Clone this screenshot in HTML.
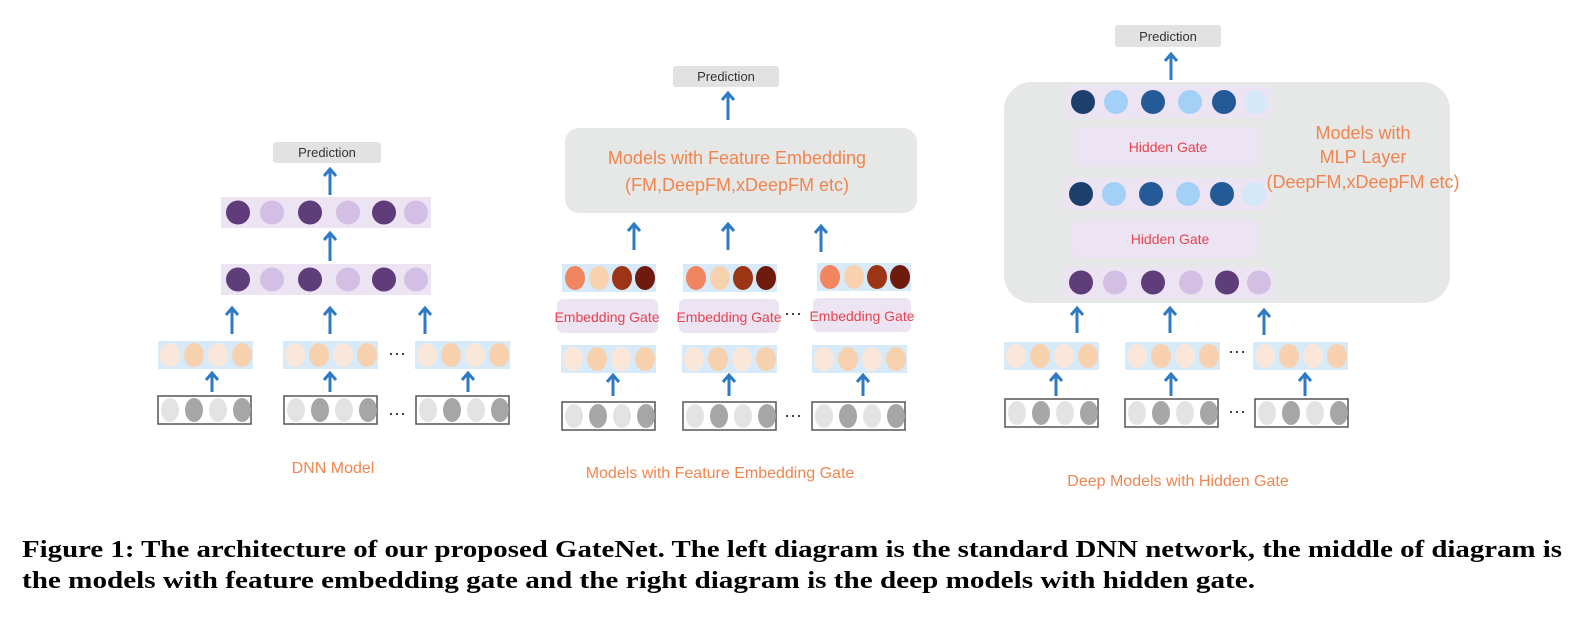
<!DOCTYPE html>
<html><head><meta charset="utf-8"><style>
html,body{margin:0;padding:0;background:#fff;}
svg{display:block;}
.o{font-family:"Liberation Sans",sans-serif;fill:#f0854f;}
.r{font-family:"Liberation Sans",sans-serif;fill:#e8434f;font-size:14px;}
.p{font-family:"Liberation Sans",sans-serif;fill:#333;font-size:13px;}
.cap{font-family:"Liberation Serif",serif;font-weight:bold;font-size:24px;fill:#000;}
.dots{font-family:"Liberation Sans",sans-serif;font-size:18px;fill:#222;}
</style></head><body>
<svg width="1591" height="618" viewBox="0 0 1591 618" xmlns="http://www.w3.org/2000/svg">
<defs>
<g id="inp">
<rect x="0" y="0" width="93" height="28" fill="#fff" stroke="#555" stroke-width="1.5"/>
<ellipse cx="12" cy="14" rx="9" ry="12" fill="#e3e3e3"/>
<ellipse cx="36" cy="14" rx="9" ry="12" fill="#a6a6a6"/>
<ellipse cx="60" cy="14" rx="9" ry="12" fill="#e3e3e3"/>
<ellipse cx="84" cy="14" rx="9" ry="12" fill="#a6a6a6"/>
</g>
<g id="emb">
<rect x="0" y="0" width="95" height="28" fill="#d6eaf9"/>
<ellipse cx="12" cy="14" rx="10" ry="12" fill="#fbe7d9"/>
<ellipse cx="36" cy="14" rx="10" ry="12" fill="#f7d1ad"/>
<ellipse cx="60" cy="14" rx="10" ry="12" fill="#fbe7d9"/>
<ellipse cx="84" cy="14" rx="10" ry="12" fill="#f7d1ad"/>
</g>
<g id="col">
<rect x="0" y="0" width="94" height="28" fill="#d6eaf9"/>
<ellipse cx="13" cy="14" rx="10" ry="12" fill="#f08560"/>
<ellipse cx="37" cy="14" rx="10" ry="12" fill="#f8d2ae"/>
<ellipse cx="60" cy="14" rx="10" ry="12" fill="#9c3416"/>
<ellipse cx="83" cy="14" rx="10" ry="12" fill="#6e1a0c"/>
</g>
<g id="pur">
<rect x="0" y="0" width="210" height="31" fill="#ece4f3"/>
<circle cx="17" cy="15.5" r="12" fill="#5e3d7a"/>
<circle cx="51" cy="15.5" r="12" fill="#d3bfe3"/>
<circle cx="89" cy="15.5" r="12" fill="#5e3d7a"/>
<circle cx="127" cy="15.5" r="12" fill="#d3bfe3"/>
<circle cx="163" cy="15.5" r="12" fill="#5e3d7a"/>
<circle cx="195" cy="15.5" r="12" fill="#d3bfe3"/>
</g>
<g id="blu">
<rect x="0" y="0" width="206" height="32" fill="#ece4f3"/>
<circle cx="17" cy="16" r="12" fill="#1d3f6e"/>
<circle cx="50" cy="16" r="12" fill="#a3d0f7"/>
<circle cx="87" cy="16" r="12" fill="#255a99"/>
<circle cx="124" cy="16" r="12" fill="#a3d0f7"/>
<circle cx="158" cy="16" r="12" fill="#255a99"/>
<circle cx="190" cy="16" r="12" fill="#d5e8fa"/>
</g>
</defs>

<g stroke="#2f7ac4" stroke-width="3" fill="none" stroke-linecap="butt">
<!-- left -->
<path d="M212 392V373M206 380L212 373L218 380"/>
<path d="M330 392V373M324 380L330 373L336 380"/>
<path d="M468 392V373M462 380L468 373L474 380"/>
<path d="M232 334V308M226 315L232 308L238 315"/>
<path d="M330 334V308M324 315L330 308L336 315"/>
<path d="M425 334V308M419 315L425 308L431 315"/>
<path d="M330 261V233M324 240L330 233L336 240"/>
<path d="M330 195V169M324 176L330 169L336 176"/>
<!-- middle -->
<path d="M613 396V375M607 382L613 375L619 382"/>
<path d="M729 396V375M723 382L729 375L735 382"/>
<path d="M863 396V375M857 382L863 375L869 382"/>
<path d="M634 250V224M628 231L634 224L640 231"/>
<path d="M728 250V224M722 231L728 224L734 231"/>
<path d="M821 252V226M815 233L821 226L827 233"/>
<path d="M728 120V93M722 100L728 93L734 100"/>
<!-- right -->
<path d="M1056 396V374M1050 381L1056 374L1062 381"/>
<path d="M1171 396V374M1165 381L1171 374L1177 381"/>
<path d="M1305 396V374M1299 381L1305 374L1311 381"/>
<path d="M1077 333V308M1071 315L1077 308L1083 315"/>
<path d="M1170 333V308M1164 315L1170 308L1176 315"/>
<path d="M1264 335V310M1258 317L1264 310L1270 317"/>
<path d="M1171 80V54M1165 61L1171 54L1177 61"/>
</g>

<!-- LEFT -->
<rect x="273" y="142" width="108" height="21" rx="3" fill="#e2e2e2"/>
<text class="p" x="327" y="157" text-anchor="middle">Prediction</text>
<use href="#pur" x="221" y="197"/>
<use href="#pur" x="221" y="264"/>
<use href="#emb" x="158" y="341"/>
<use href="#emb" x="283" y="341"/>
<use href="#emb" x="415" y="341"/>
<use href="#inp" x="158" y="396"/>
<use href="#inp" x="284" y="396"/>
<use href="#inp" x="416" y="396"/>
<text class="dots" x="397" y="359" text-anchor="middle">···</text>
<text class="dots" x="397" y="419" text-anchor="middle">···</text>
<text class="o" x="333" y="473" font-size="16" text-anchor="middle">DNN Model</text>

<!-- MIDDLE -->
<rect x="673" y="66" width="106" height="21" rx="3" fill="#e2e2e2"/>
<text class="p" x="726" y="81" text-anchor="middle">Prediction</text>
<rect x="565" y="128" width="352" height="85" rx="14" fill="#e6e7e7"/>
<text class="o" x="737" y="164" font-size="18" text-anchor="middle">Models with Feature Embedding</text>
<text class="o" x="737" y="191" font-size="18" text-anchor="middle">(FM,DeepFM,xDeepFM etc)</text>
<use href="#col" x="562" y="264"/>
<use href="#col" x="683" y="264"/>
<use href="#col" x="817" y="263"/>
<rect x="557" y="299" width="101" height="34" rx="6" fill="#ece4f3"/>
<rect x="679" y="299" width="100" height="34" rx="6" fill="#ece4f3"/>
<rect x="813" y="298" width="98" height="34" rx="6" fill="#ece4f3"/>
<text class="r" x="607" y="322" text-anchor="middle">Embedding Gate</text>
<text class="r" x="729" y="322" text-anchor="middle">Embedding Gate</text>
<text class="r" x="862" y="321" text-anchor="middle">Embedding Gate</text>
<use href="#emb" x="561" y="345"/>
<use href="#emb" x="682" y="345"/>
<use href="#emb" x="812" y="345"/>
<use href="#inp" x="562" y="402"/>
<use href="#inp" x="683" y="402"/>
<use href="#inp" x="812" y="402"/>
<text class="dots" x="793" y="319" text-anchor="middle">···</text>
<text class="dots" x="793" y="421" text-anchor="middle">···</text>
<text class="o" x="720" y="478" font-size="16" text-anchor="middle">Models with Feature Embedding Gate</text>

<!-- RIGHT -->
<rect x="1115" y="25" width="106" height="22" rx="3" fill="#e2e2e2"/>
<text class="p" x="1168" y="41" text-anchor="middle">Prediction</text>
<rect x="1004" y="82" width="446" height="221" rx="28" fill="#e6e7e7"/>
<use href="#blu" x="1066" y="86"/>
<rect x="1074" y="127" width="188" height="40" rx="6" fill="#ece4f3"/>
<text class="r" x="1168" y="152" text-anchor="middle">Hidden Gate</text>
<use href="#blu" x="1064" y="178"/>
<rect x="1072" y="220" width="187" height="38" rx="6" fill="#ece4f3"/>
<text class="r" x="1170" y="244" text-anchor="middle">Hidden Gate</text>
<use href="#pur" x="1064" y="267"/>
<text class="o" x="1363" y="139" font-size="18" text-anchor="middle">Models with</text>
<text class="o" x="1363" y="163" font-size="18" text-anchor="middle">MLP Layer</text>
<text class="o" x="1363" y="188" font-size="18" text-anchor="middle">(DeepFM,xDeepFM etc)</text>
<use href="#emb" x="1004" y="342"/>
<use href="#emb" x="1125" y="342"/>
<use href="#emb" x="1253" y="342"/>
<use href="#inp" x="1005" y="399"/>
<use href="#inp" x="1125" y="399"/>
<use href="#inp" x="1255" y="399"/>
<text class="dots" x="1237" y="357" text-anchor="middle">···</text>
<text class="dots" x="1237" y="417" text-anchor="middle">···</text>
<text class="o" x="1178" y="486" font-size="16" text-anchor="middle">Deep Models with Hidden Gate</text>

<!-- caption -->
<text class="cap" x="22" y="557" textLength="1540" lengthAdjust="spacingAndGlyphs">Figure 1: The architecture of our proposed GateNet. The left diagram is the standard DNN network, the middle of diagram is</text>
<text class="cap" x="22" y="588" textLength="1233" lengthAdjust="spacingAndGlyphs">the models with feature embedding gate and the right diagram is the deep models with hidden gate.</text>
</svg>
</body></html>
